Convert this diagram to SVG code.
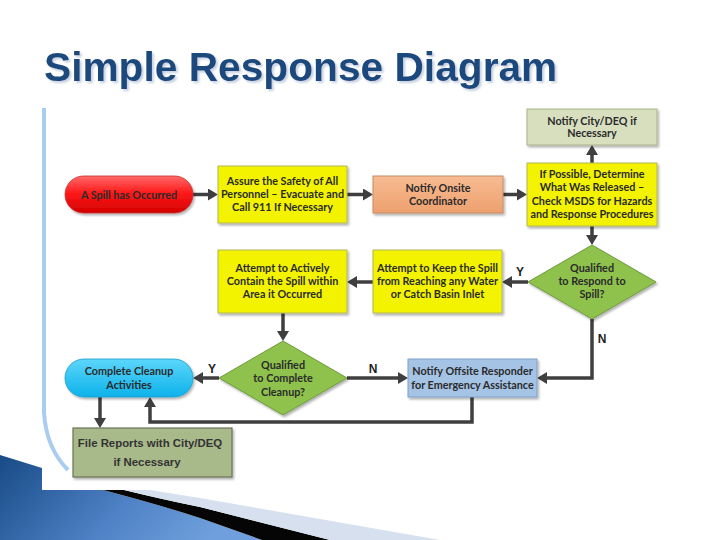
<svg xmlns="http://www.w3.org/2000/svg" width="720" height="540" viewBox="0 0 720 540">
<defs>
<style>
.t{font-family:Lato,"Open Sans","Liberation Sans",sans-serif;font-weight:700;font-size:10.8px;fill:#2b2b2b;text-anchor:middle}
.lbl{font-family:"Liberation Sans",Arial,sans-serif;font-weight:900;font-size:12px;fill:#1e1e1e;text-anchor:middle}
.c{fill:none;stroke:#3f3f3f;stroke-width:3.5;marker-end:url(#ah)}
.yel{fill:#f3f300;stroke:#b4b45c;stroke-width:1}
.dia{fill:#8ec24e;stroke:#6f9a3c;stroke-width:1}
</style>
<marker id="ah" markerUnits="userSpaceOnUse" markerWidth="10" markerHeight="12" viewBox="0 0 10 12" refX="7" refY="6" orient="auto">
<path d="M0,0 L10,6 L0,12 z" fill="#3f3f3f"/>
</marker>
<filter id="sh" x="-10%" y="-10%" width="130%" height="140%">
<feDropShadow dx="1.5" dy="2" stdDeviation="1.2" flood-color="#000" flood-opacity="0.3"/>
</filter>
<filter id="tsh" x="-5%" y="-20%" width="110%" height="150%">
<feDropShadow dx="2" dy="2" stdDeviation="0.8" flood-color="#9fb0cc" flood-opacity="0.6"/>
</filter>
<linearGradient id="gRed" x1="0" y1="0" x2="0" y2="1">
<stop offset="0" stop-color="#ff6a6a"/><stop offset="0.45" stop-color="#ff1a1a"/><stop offset="1" stop-color="#d40000"/>
</linearGradient>
<linearGradient id="gCy" x1="0" y1="0" x2="0" y2="1">
<stop offset="0" stop-color="#5cd6fb"/><stop offset="1" stop-color="#0db2ea"/>
</linearGradient>
<linearGradient id="gOr" x1="0" y1="0" x2="0" y2="1">
<stop offset="0" stop-color="#f7bb92"/><stop offset="1" stop-color="#eea06e"/>
</linearGradient>
<linearGradient id="gBlue" x1="0" y1="0" x2="1" y2="0.3">
<stop offset="0" stop-color="#184a86"/><stop offset="0.6" stop-color="#4f82c6"/><stop offset="1" stop-color="#6f9fdc"/>
</linearGradient>
</defs>

<rect x="0" y="0" width="720" height="540" fill="#fff"/>

<!-- slide decoration -->
<path d="M0,455 L42,468 L42,490 L103,490 Q160,505 200,518 L262,540 L0,540 z" fill="url(#gBlue)"/>
<path d="M103,490 L124,490 Q165,500 200,507 L330,540 L262,540 L200,518 Q160,505 103,490 z" fill="#050505"/>
<path d="M124,490 L150,490 Q175,494 200,498 L440,540 L330,540 L200,507 Q165,500 124,490 z" fill="#d6e0ee"/>
<path d="M44,108 L44,412 Q46,448 68,470" fill="none" stroke="#a9cdf1" stroke-width="4"/>

<!-- title -->
<text x="44" y="81" font-family="'Liberation Sans',Arial,sans-serif" font-weight="700" font-size="40.7" fill="#1f497d" filter="url(#tsh)">Simple Response Diagram</text>

<!-- connectors -->
<g id="connectors">
<path class="c" d="M193,194.5 H215"/>
<path class="c" d="M347,194.5 H370"/>
<path class="c" d="M503,194.5 H524"/>
<path class="c" d="M592,163 V148"/>
<path class="c" d="M592,226 V242"/>
<path class="c" d="M528,282 H505"/>
<path class="c" d="M373,282 H350"/>
<path class="c" d="M283,313 V338"/>
<path class="c" d="M219,378 H196"/>
<path class="c" d="M347,378 H405"/>
<path class="c" d="M592,319 V378 H540"/>
<path class="c" d="M472,397 V422 H150 V400"/>
<path class="c" d="M100,397 V425"/>
<text class="lbl" x="520" y="276">Y</text>
<text class="lbl" x="602" y="343">N</text>
<text class="lbl" x="373" y="373">N</text>
<text class="lbl" x="212" y="373">Y</text>
</g>

<g id="n-spill">
<rect x="65" y="176" width="128" height="37" rx="18.5" fill="url(#gRed)" stroke="#c03030" stroke-width="0.8" filter="url(#sh)"/>
<text class="t" x="129" y="198.5" fill="#3a0a0a">A Spill has Occurred</text>
</g>

<g id="n-assure">
<rect class="yel" x="218" y="166" width="129" height="57" filter="url(#sh)"/>
<text class="t" x="282.5" y="185">Assure the Safety of All</text>
<text class="t" x="282.5" y="198">Personnel – Evacuate and</text>
<text class="t" x="282.5" y="211">Call 911 If Necessary</text>
</g>

<g id="n-onsite">
<rect x="373" y="176" width="130" height="37" fill="url(#gOr)" stroke="#c88a62" stroke-width="1" filter="url(#sh)"/>
<text class="t" x="438" y="191.5">Notify Onsite</text>
<text class="t" x="438" y="204.5">Coordinator</text>
</g>

<g id="n-determine">
<rect class="yel" x="527" y="163" width="130" height="63" filter="url(#sh)"/>
<text class="t" x="592" y="178">If Possible, Determine</text>
<text class="t" x="592" y="191">What Was Released –</text>
<text class="t" x="592" y="204.5">Check MSDS for Hazards</text>
<text class="t" x="592" y="217.5">and Response Procedures</text>
</g>

<g id="n-notify-city">
<rect x="527" y="109" width="130" height="36" fill="#d7dfbf" stroke="#a9b28e" stroke-width="1" filter="url(#sh)"/>
<text class="t" x="592" y="124.5">Notify City/DEQ if</text>
<text class="t" x="592" y="137">Necessary</text>
</g>

<g id="n-qual-respond">
<path class="dia" d="M592,245 L656,282 L592,319 L528,282 z" filter="url(#sh)"/>
<text class="t" x="592" y="271.5" fill="#1f2e12">Qualified</text>
<text class="t" x="592" y="285" fill="#1f2e12">to Respond to</text>
<text class="t" x="592" y="298" fill="#1f2e12">Spill?</text>
</g>

<g id="n-keep">
<rect class="yel" x="373" y="250" width="129" height="63" filter="url(#sh)"/>
<text class="t" x="437.5" y="271.5">Attempt to Keep the Spill</text>
<text class="t" x="437.5" y="284.5">from Reaching any Water</text>
<text class="t" x="437.5" y="297.5">or Catch Basin Inlet</text>
</g>

<g id="n-contain">
<rect class="yel" x="218" y="250" width="129" height="63" filter="url(#sh)"/>
<text class="t" x="282.5" y="271.5">Attempt to Actively</text>
<text class="t" x="282.5" y="284.5">Contain the Spill within</text>
<text class="t" x="282.5" y="297.5">Area it Occurred</text>
</g>

<g id="n-qual-cleanup">
<path class="dia" d="M283,341 L347,378 L283,415 L219,378 z" filter="url(#sh)"/>
<text class="t" x="283" y="368.5" fill="#1f2e12">Qualified</text>
<text class="t" x="283" y="382" fill="#1f2e12">to Complete</text>
<text class="t" x="283" y="395.5" fill="#1f2e12">Cleanup?</text>
</g>

<g id="n-offsite">
<rect x="408" y="359" width="129" height="38" fill="#a5c3e5" stroke="#7f9fc5" stroke-width="1" filter="url(#sh)"/>
<text class="t" x="472.5" y="375">Notify Offsite Responder</text>
<text class="t" x="472.5" y="388.5">for Emergency Assistance</text>
</g>

<g id="n-cleanup">
<rect x="65" y="359" width="128" height="38" rx="19" fill="url(#gCy)" stroke="#1a9ccc" stroke-width="0.8" filter="url(#sh)"/>
<text class="t" x="129" y="375" fill="#15294a">Complete Cleanup</text>
<text class="t" x="129" y="388.5" fill="#15294a">Activities</text>
</g>

<g id="n-file">
<rect x="73" y="428" width="159" height="49" fill="#a8b98a" stroke="#6a7458" stroke-width="1.2" filter="url(#sh)"/>
<text x="150" y="447" font-family="'Liberation Sans',Arial,sans-serif" font-weight="700" font-size="11.4" fill="#333" text-anchor="middle">File Reports with City/DEQ</text>
<text x="147" y="466" font-family="'Liberation Sans',Arial,sans-serif" font-weight="700" font-size="11.4" fill="#333" text-anchor="middle">if Necessary</text>
</g>
</svg>
